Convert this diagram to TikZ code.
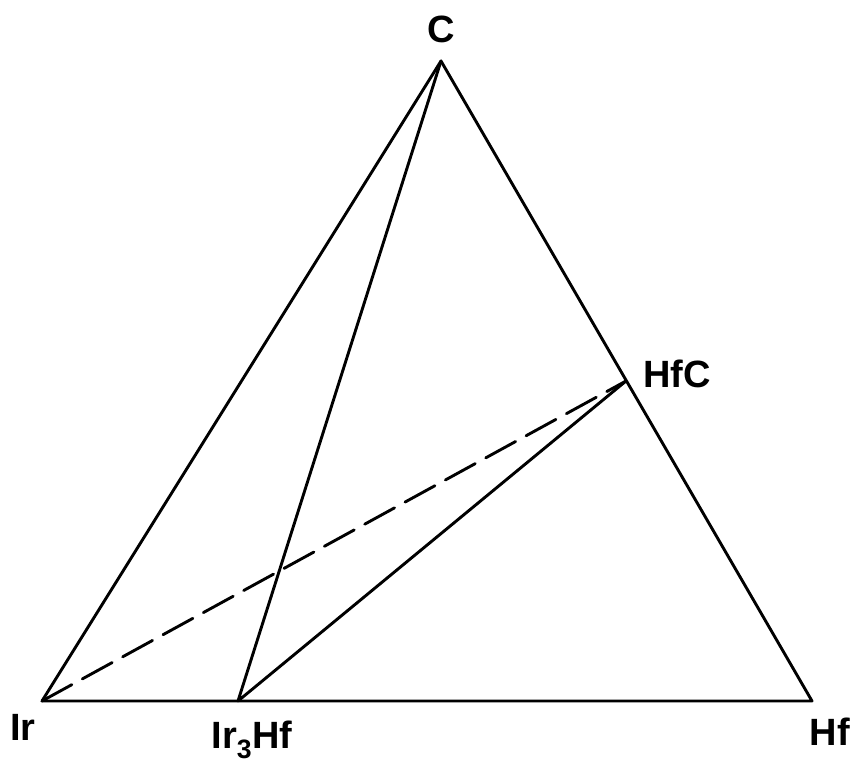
\documentclass[tikz,border=0pt]{standalone}
\usepackage{fontspec}
\setmainfont{Liberation Sans}
\begin{document}
\begin{tikzpicture}[x=1pt,y=-1pt,
  edge/.style={line width=2.9pt,line cap=round,line join=round},
  tie/.style={edge,dash pattern=on 34pt off 12pt},
  lbl/.style={font=\fontsize{38}{44}\selectfont\bfseries,inner sep=0pt}]
\useasboundingbox (0,0) rectangle (864,766);
\coordinate (C) at (441,61);
\coordinate (Ir) at (42,701);
\coordinate (Hf) at (812,701);
\coordinate (IrHf) at (238,701);
\coordinate (HfC) at (626,381);
\draw[edge] (Ir) -- (Hf) -- (C) -- cycle;
\draw[edge] (C) -- (IrHf) -- (HfC);
\draw[tie] (Ir) -- (HfC);
\node[lbl] (lC) at (441,29) {C};
\node[lbl] (lHfC) at (677,374) {HfC};
\node[lbl] (lIr) at (23,727) {Ir};
\node[lbl,anchor=base] (lIrHf) at (252,748) {Ir$_{\mathbf{3}}$Hf};
\node[lbl] (lHf) at (830,732) {Hf};
\end{tikzpicture}
\end{document}
